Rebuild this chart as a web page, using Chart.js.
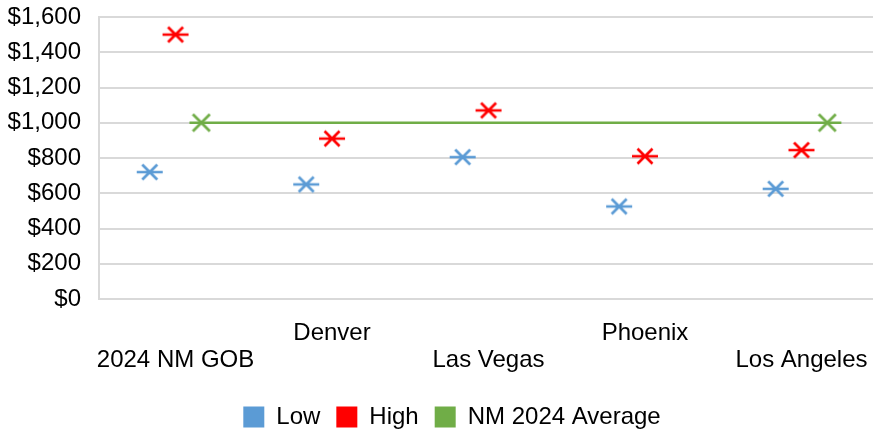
<!DOCTYPE html>
<html>
<head>
<meta charset="utf-8">
<script src="https://cdn.jsdelivr.net/npm/chart.js@4"></script>
<style>
  html, body { margin: 0; padding: 0; background: #fff; }
  #wrap { width: 878px; height: 431px; }
</style>
</head>
<body>
<div id="wrap"><canvas id="myChart"></canvas></div>
<script>
// data
const ciudades = ['2024 NM GOB', 'Denver', 'Las Vegas', 'Phoenix', 'Los Angeles'];
const bajo = [720, 650, 805, 525, 625];
const alto = [1500, 910, 1070, 810, 845];
const promedio = [1000, 1000, 1000, 1000, 1000];
const yTicks = [0, 200, 400, 600, 800, 1000, 1200, 1400, 1600];

const azul = '#5B9BD5';
const rojo = '#FF0000';
const verde = '#70AD47';
const fuente = 'Liberation Sans, Arial, sans-serif';

// excel style markers
function estrella(color) {
  const c = document.createElement('canvas');
  c.width = 30; c.height = 20;
  const g = c.getContext('2d');
  g.strokeStyle = color;
  g.lineWidth = 2.7;
  g.beginPath();
  g.moveTo(2, 10); g.lineTo(28, 10);
  g.moveTo(7.5, 2.5); g.lineTo(22.5, 17.5);
  g.moveTo(7.5, 17.5); g.lineTo(22.5, 2.5);
  g.stroke();
  return c;
}
function cruz(color) {
  const c = document.createElement('canvas');
  c.width = 20; c.height = 20;
  const g = c.getContext('2d');
  g.strokeStyle = color;
  g.lineWidth = 2.7;
  g.beginPath();
  g.moveTo(1.5, 1.5); g.lineTo(18.5, 18.5);
  g.moveTo(1.5, 18.5); g.lineTo(18.5, 1.5);
  g.stroke();
  return c;
}

const offset = 0.165;
const datosBajo = bajo.map((v, i) => ({ x: i - offset, y: v }));
const datosAlto = alto.map((v, i) => ({ x: i, y: v }));

// line runs a little past the two end markers
let datosProm = [{ x: offset - 0.076, y: promedio[0] }];
promedio.forEach((v, i) => datosProm.push({ x: i + offset, y: v }));
datosProm.push({ x: promedio.length - 1 + offset + 0.09, y: promedio[promedio.length - 1] });
const radiosProm = datosProm.map((p, i) => (i === 1 || i === datosProm.length - 2) ? 10 : 0);

// legend sits lower and a bit to the right, like the original
const leyendaBaja = {
  id: 'leyendaBaja',
  beforeInit(chart) {
    const fitOrig = chart.legend.fit;
    chart.legend.fit = function () {
      fitOrig.bind(chart.legend)();
      this.height = 42;
    };
  },
  afterLayout(chart) {
    chart.legend.left += 9;
    chart.legend.right += 9;
  }
};

const ctx = document.getElementById('myChart');

new Chart(ctx, {
  type: 'scatter',
  plugins: [leyendaBaja],
  data: {
    datasets: [
      {
        label: 'Low',
        data: datosBajo,
        pointStyle: estrella(azul),
        backgroundColor: azul,
        borderColor: azul,
        showLine: false
      },
      {
        label: 'High',
        data: datosAlto,
        pointStyle: estrella(rojo),
        backgroundColor: rojo,
        borderColor: rojo,
        showLine: false
      },
      {
        label: 'NM 2024 Average',
        data: datosProm,
        pointStyle: cruz(verde),
        pointRadius: radiosProm,
        backgroundColor: verde,
        borderColor: verde,
        borderWidth: 2.6,
        showLine: true
      }
    ]
  },
  options: {
    responsive: true,
    maintainAspectRatio: false,
    animation: false,
    events: [],
    layout: { padding: { left: 8, right: 0, top: 17, bottom: 0 } },
    scales: {
      x: {
        type: 'linear',
        min: -0.489,
        max: 4.457,
        grid: { display: false, drawTicks: false },
        border: { display: false },
        afterBuildTicks: axis => {
          axis.ticks = ciudades.map((c, i) => ({ value: i }));
        },
        afterFit: axis => {
          axis.paddingLeft = 0;
          axis.paddingRight = 0;
          axis.height = 90;
        },
        ticks: {
          autoSkip: false,
          maxRotation: 0,
          padding: 21,
          color: '#000',
          font: { family: fuente, size: 24, lineHeight: 1.13 },
          callback: (v) => {
            const i = Math.round(v);
            return i % 2 === 1 ? [ciudades[i]] : ['', ciudades[i]];
          }
        }
      },
      y: {
        min: 0,
        max: 1600,
        afterBuildTicks: axis => {
          axis.ticks = yTicks.map(v => ({ value: v }));
        },
        afterFit: axis => {
          axis.paddingTop = 0;
          axis.paddingBottom = 0;
          axis.width = 91;
        },
        grid: { color: '#D9D9D9', lineWidth: 2, drawTicks: false },
        border: { color: '#D9D9D9', width: 2 },
        ticks: {
          padding: 18,
          color: '#000',
          font: { family: fuente, size: 24 },
          callback: v => '$' + v.toLocaleString('en-US')
        }
      }
    },
    plugins: {
      tooltip: { enabled: false },
      legend: {
        position: 'bottom',
        labels: {
          boxWidth: 21,
          boxHeight: 21,
          padding: 16,
          color: '#000',
          font: { family: fuente, size: 24 },
          generateLabels: chart => chart.data.datasets.map((d, i) => ({
            text: d.label,
            fillStyle: d.borderColor,
            strokeStyle: d.borderColor,
            lineWidth: 0,
            hidden: false,
            datasetIndex: i
          }))
        }
      }
    }
  }
});
</script>
</body>
</html>
